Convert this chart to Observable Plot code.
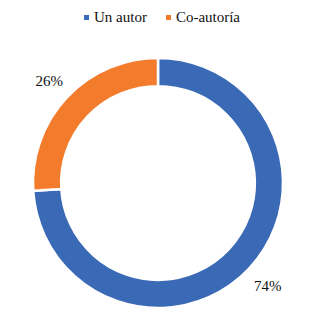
<!DOCTYPE html>
<html>
<head>
<meta charset="utf-8">
<script src="https://cdn.jsdelivr.net/npm/d3@7"></script>
<script src="https://cdn.jsdelivr.net/npm/@observablehq/plot@0.6"></script>
<style>
  html, body { margin: 0; padding: 0; background: #fff; }
  #wrap { width: 311px; height: 315px; font-family: "Liberation Serif", "DejaVu Serif", serif; color: #111; }
  #legend { height: 34px; display: flex; justify-content: center; align-items: center; padding-left: 13px; box-sizing: border-box; font-size: 15px; }
  #legend .item { display: flex; align-items: center; }
  #legend .item + .item { margin-left: 19px; }
  #legend .sw { width: 5px; height: 5px; margin-right: 5px; display: inline-block; }
</style>
</head>
<body>
<div id="wrap">
  <div id="legend"></div>
  <div id="chart"></div>
</div>
<script>
const categories = ["Un autor", "Co-autoría"];
const values = [74, 26];
const labels = ["74%", "26%"];
const colors = ["#3A69B6", "#F37B2C"];

const data = categories.map((c, i) => ({category: c, value: values[i], label: labels[i]}));
const arcs = d3.pie().sort(null).value(d => d.value)(data);
const labelRadius = 1.2;
const labelData = arcs.map(a => {
  const mid = (a.startAngle + a.endAngle) / 2;
  return {x: labelRadius * Math.sin(mid), y: labelRadius * Math.cos(mid), text: a.data.label, category: a.data.category};
});

// legend
const legend = document.getElementById("legend");
categories.forEach((c, i) => {
  const item = document.createElement("span");
  item.className = "item";
  const sw = document.createElement("span");
  sw.className = "sw";
  sw.style.background = colors[i];
  item.appendChild(sw);
  item.appendChild(document.createTextNode(c));
  legend.appendChild(item);
});

const W = 311, H = 281, R = 125, CX = 158, CY = 149;
const innerRatio = 0.775;

const donut = (index, scales) => {
  const {x, y, color} = scales;
  const cx = x(0), cy = y(0), r = x(1) - x(0);
  const arc = d3.arc().innerRadius(r * innerRatio).outerRadius(r);
  const g = d3.create("svg:g").attr("transform", `translate(${cx},${cy})`);
  g.selectAll("path").data(arcs).join("path")
    .attr("d", arc)
    .attr("fill", d => color ? color(d.data.category) : colors[categories.indexOf(d.data.category)])
    .attr("stroke", "white")
    .attr("stroke-width", 2.5)
    .attr("stroke-linejoin", "miter");
  return g.node();
};

const chart = Plot.plot({
  width: W,
  height: H,
  margin: 0,
  x: {domain: [-CX / R, (W - CX) / R], axis: null},
  y: {domain: [-(H - CY) / R, CY / R], axis: null},
  color: {domain: categories, range: colors},
  style: {fontFamily: "Liberation Serif, DejaVu Serif, serif", fontSize: "15px", background: "white", color: "#111"},
  marks: [
    Plot.dot(data, {x: () => 0, y: () => 0, fill: "category", r: 0}),
    donut,
    Plot.text(labelData, {x: "x", y: "y", text: "text", fontSize: 15, fill: "#111"})
  ]
});
document.getElementById("chart").appendChild(chart);
</script>
</body>
</html>
